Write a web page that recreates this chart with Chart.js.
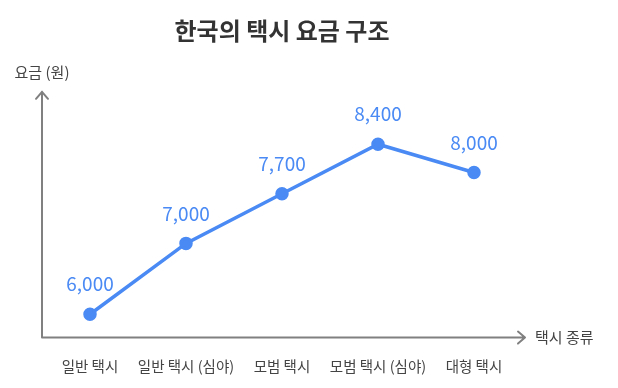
<!DOCTYPE html>
<html>
<head>
<meta charset="utf-8">
<script src="https://cdn.jsdelivr.net/npm/chart.js@4"></script>
<style>
  html, body { margin: 0; padding: 0; background: #fff; }
  #wrap { width: 618px; height: 388px; }
</style>
</head>
<body>
<div id="wrap"><canvas id="chart"></canvas></div>
<script>
const categories = ['일반 택시', '일반 택시 (심야)', '모범 택시', '모범 택시 (심야)', '대형 택시'];
const fares = [6000, 7000, 7700, 8400, 8000];

const blue = '#4a8af4';
const axisGray = '#808080';
const font = '"Noto Sans CJK KR", "Noto Sans", sans-serif';

// axes with arrows, axis titles and value labels
const decor = {
    id: 'decor',
    afterDatasetsDraw(chart) {
        const ctx = chart.ctx;
        const area = chart.chartArea;
        const x0 = area.left, y0 = area.bottom;
        ctx.save();
        ctx.strokeStyle = axisGray;
        ctx.lineWidth = 2;
        ctx.lineCap = 'round';
        ctx.lineJoin = 'round';
        ctx.beginPath();
        ctx.moveTo(x0, y0);
        ctx.lineTo(x0, area.top);
        ctx.moveTo(x0 - 6, area.top + 7);
        ctx.lineTo(x0, area.top);
        ctx.lineTo(x0 + 6, area.top + 7);
        ctx.moveTo(x0, y0);
        ctx.lineTo(area.right + 3, y0);
        ctx.moveTo(area.right - 4, y0 - 6);
        ctx.lineTo(area.right + 3, y0);
        ctx.lineTo(area.right - 4, y0 + 6);
        ctx.stroke();

        ctx.fillStyle = '#444';
        ctx.font = '15px ' + font;
        ctx.textBaseline = 'middle';
        ctx.textAlign = 'center';
        ctx.fillText('요금 (원)', x0, 72);
        ctx.textAlign = 'left';
        ctx.fillText('택시 종류', area.right + 13, y0);

        const meta = chart.getDatasetMeta(0);
        ctx.fillStyle = blue;
        ctx.font = '19px ' + font;
        ctx.textAlign = 'center';
        meta.data.forEach((pt, i) => {
            ctx.fillText(fares[i].toLocaleString('en-US'), pt.x, pt.y - 30);
        });
        ctx.restore();
    }
};

new Chart(document.getElementById('chart'), {
    type: 'line',
    data: {
        labels: categories,
        datasets: [{
            data: fares,
            borderColor: blue,
            backgroundColor: blue,
            borderWidth: 3.5,
            pointRadius: 5,
            pointHoverRadius: 5,
            tension: 0
        }]
    },
    options: {
        responsive: true,
        maintainAspectRatio: false,
        animation: false,
        layout: { padding: { left: 42, right: 96, top: 0, bottom: 1 } },
        plugins: {
            legend: { display: false },
            tooltip: { enabled: false },
            title: {
                display: true,
                text: '한국의 택시 요금 구조',
                color: '#333',
                font: { family: font, size: 24, weight: 'bold' },
                padding: { top: 16, bottom: 47 }
            }
        },
        scales: {
            x: {
                offset: true,
                grid: { display: false },
                border: { display: false },
                ticks: { color: '#444', font: { family: font, size: 14.5 }, padding: 12, maxRotation: 0, autoSkip: false }
            },
            y: {
                display: false,
                min: 5670,
                max: 9140
            }
        }
    },
    plugins: [decor]
});
</script>
</body>
</html>
